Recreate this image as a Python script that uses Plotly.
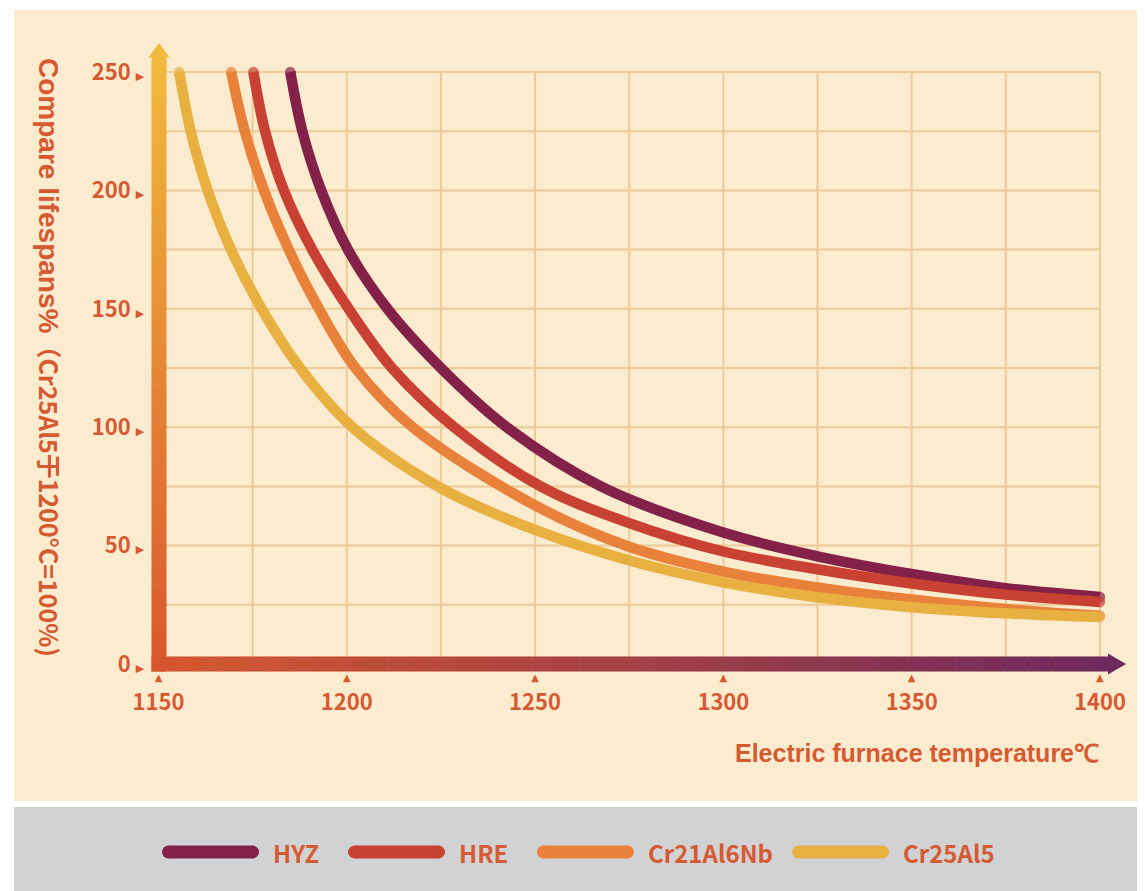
import plotly.graph_objects as go

# ---------------- data ----------------
series_names = ["HYZ", "HRE", "Cr21Al6Nb", "Cr25Al5"]
series_colors = ["#842148", "#C94133", "#E8823A", "#E8B040"]

hyz_temp = [1185.0, 1188.2, 1193.2, 1200.3, 1210.8, 1225, 1242.5, 1267.5, 1300, 1325, 1350, 1375, 1400]
hyz_life = [250, 225, 200, 175, 150, 125, 100, 75, 55.5, 45.5, 38, 32, 28.3]

hre_temp = [1175.2, 1178.3, 1183.3, 1190.8, 1200.5, 1212, 1228.5, 1251.5, 1275, 1300, 1325, 1350, 1375, 1400]
hre_life = [250, 225, 200, 175, 150, 125, 100, 75, 59.5, 47.5, 40, 34, 29.3, 26.2]

nb_temp = [1169.3, 1172.9, 1178.0, 1184.6, 1192.6, 1202.3, 1217.5, 1250, 1275, 1300, 1325, 1350, 1375, 1400]
nb_life = [250, 225, 200, 175, 150, 125, 100, 67, 49.5, 39, 32.3, 27.2, 23.2, 20.4]

cr_temp = [1155.5, 1158.55, 1163.05, 1169.25, 1177.4, 1187.6, 1201.5, 1225, 1250, 1275, 1300, 1325, 1350, 1375, 1400]
cr_life = [250, 225, 200, 175, 150, 125, 100, 74.3, 56.6, 43.7, 34.5, 28.2, 24, 21.4, 19.8]

x_ticks = [1150, 1200, 1250, 1300, 1350, 1400]
y_ticks = [0, 50, 100, 150, 200, 250]
grid_step = 25

x_title = "Electric furnace temperature℃"
y_title_main = "Compare lifespans%"
y_title_note = "（Cr25Al5于1200°C=100%)"

series_temp = [hyz_temp, hre_temp, nb_temp, cr_temp]
series_life = [hyz_life, hre_life, nb_life, cr_life]

# ---------------- layout constants (page pixels) ----------------
W, H = 1145, 891
OFF = 8                      # default page body margin
FW, FH = W - OFF, H - OFF    # figure size
TXT = "#D65A31"
BEIGE = "#FBEBCF"
GRAY = "#D1D2D4"
GRID = "#EECA96"
PLOT_L, PLOT_R = 158.5, 1115.0   # x range [1150, 1404]
PLOT_B, PLOT_T = 664.0, 57.8     # y range [0, 256]
X_RANGE = [x_ticks[0], x_ticks[-1] + 4]
Y_RANGE = [y_ticks[0], y_ticks[-1] + 6]
LINE_W = 10.5


def hx(p):
    return (p - OFF) / FW


def hy(p):
    return 1 - (p - OFF) / FH


def mix(c1, c2, t):
    a = [int(c1[i:i + 2], 16) for i in (1, 3, 5)]
    b = [int(c2[i:i + 2], 16) for i in (1, 3, 5)]
    return "rgb(%d,%d,%d)" % tuple(round(a[k] + (b[k] - a[k]) * t) for k in range(3))


fig = go.Figure()

for name, col, xs, ys in zip(series_names, series_colors, series_temp, series_life):
    sizes = [LINE_W] + [0] * (len(xs) - 2) + [LINE_W]
    fig.add_trace(go.Scatter(
        x=xs, y=ys, name=name, mode="lines+markers",
        line=dict(color=col, width=LINE_W, shape="spline", smoothing=1.0),
        marker=dict(size=sizes, color=col, line=dict(width=0)),
        showlegend=False, hoverinfo="x+y+name",
    ))

shapes = []
# background panels
shapes.append(dict(type="rect", xref="paper", yref="paper", x0=hx(14), x1=hx(W),
                   y0=hy(801), y1=hy(10), fillcolor=BEIGE, line_width=0, layer="below"))
shapes.append(dict(type="rect", xref="paper", yref="paper", x0=hx(14), x1=hx(W),
                   y0=hy(H), y1=hy(807), fillcolor=GRAY, line_width=0, layer="below"))

# grid lines (stop at the last tick)
t = x_ticks[0] + grid_step
while t <= x_ticks[-1]:
    shapes.append(dict(type="line", xref="x", yref="y", x0=t, x1=t, y0=y_ticks[0], y1=y_ticks[-1],
                       line=dict(color=GRID, width=2), layer="below"))
    t += grid_step
v = y_ticks[0] + grid_step
while v <= y_ticks[-1]:
    shapes.append(dict(type="line", xref="x", yref="y", x0=x_ticks[0], x1=x_ticks[-1], y0=v, y1=v,
                       line=dict(color=GRID, width=2), layer="below"))
    v += grid_step

# gradient y axis bar
YB_X0, YB_X1 = 151.5, 166.5
YB_TOP, YB_BOT = 56.0, 671.5
Y_TOP_C, Y_BOT_C = "#F2BA3C", "#D9562E"
N = 120
for i in range(N):
    a = YB_TOP + (YB_BOT - YB_TOP) * i / N
    b = YB_TOP + (YB_BOT - YB_TOP) * (i + 1) / N + 0.6
    shapes.append(dict(type="rect", xref="paper", yref="paper", x0=hx(YB_X0), x1=hx(YB_X1),
                       y0=hy(min(b, YB_BOT)), y1=hy(a), fillcolor=mix(Y_TOP_C, Y_BOT_C, (i + 0.5) / N),
                       line_width=0, layer="above"))
shapes.append(dict(type="path", xref="paper", yref="paper",
                   path="M %f,%f L %f,%f L %f,%f Z" % (hx(159), hy(43), hx(148.5), hy(57.5), hx(169.5), hy(57.5)),
                   fillcolor=Y_TOP_C, line_width=0, layer="above"))

# gradient x axis bar
XB_L, XB_R = 151.5, 1109.0
XB_Y0, XB_Y1 = 656.5, 671.5
X_L_C, X_R_C = "#D7572E", "#6E295D"
N = 160
for i in range(N):
    a = XB_L + (XB_R - XB_L) * i / N
    b = XB_L + (XB_R - XB_L) * (i + 1) / N + 0.6
    shapes.append(dict(type="rect", xref="paper", yref="paper", x0=hx(a), x1=hx(min(b, XB_R)),
                       y0=hy(XB_Y1), y1=hy(XB_Y0), fillcolor=mix(X_L_C, X_R_C, (i + 0.5) / N),
                       line_width=0, layer="above"))
shapes.append(dict(type="path", xref="paper", yref="paper",
                   path="M %f,%f L %f,%f L %f,%f Z" % (hx(1126), hy(664), hx(1108), hy(653.5), hx(1108), hy(674.5)),
                   fillcolor=X_R_C, line_width=0, layer="above"))

# custom legend
annotations = []
legend_x = [162, 348, 537, 792]
LEG_Y, LEG_LEN, LEG_TH = 852, 97, 13
for name, col, lx in zip(series_names, series_colors, legend_x):
    r = LEG_TH / 2
    shapes.append(dict(type="rect", xref="paper", yref="paper", x0=hx(lx + r), x1=hx(lx + LEG_LEN - r),
                       y0=hy(LEG_Y + r), y1=hy(LEG_Y - r), fillcolor=col, line_width=0, layer="above"))
    for cx in (lx + r, lx + LEG_LEN - r):
        shapes.append(dict(type="circle", xref="paper", yref="paper", x0=hx(cx - r), x1=hx(cx + r),
                           y0=hy(LEG_Y + r), y1=hy(LEG_Y - r), fillcolor=col, line_width=0, layer="above"))
    annotations.append(dict(xref="paper", yref="paper", x=hx(lx + LEG_LEN + 12), y=hy(LEG_Y),
                            xanchor="left", yanchor="middle", showarrow=False, text=name,
                            font=dict(family="Noto Sans CJK SC", size=24, color=TXT, weight="bold")))

# axis titles
annotations.append(dict(xref="paper", yref="paper", x=hx(1101), y=hy(753), xanchor="right", yanchor="middle",
                        showarrow=False, text="<b>%s</b>" % x_title,
                        font=dict(family="Liberation Sans", size=25, color=TXT)))
annotations.append(dict(xref="paper", yref="paper", x=hx(50), y=hy(357), xanchor="center", yanchor="middle",
                        showarrow=False, textangle=90,
                        text="<b>%s</b><span style=\"font-family:'Noto Sans CJK SC';"
                             "font-size:25px;font-weight:700\">%s</span>" % (y_title_main, y_title_note),
                        font=dict(family="Liberation Sans", size=28, color=TXT)))

tri_style = "font-family:DejaVu Sans;font-size:%dpx"
fig.update_layout(
    width=FW, height=FH, autosize=False, template="none",
    margin=dict(l=0, r=0, t=0, b=0, pad=0),
    paper_bgcolor="white", plot_bgcolor="rgba(0,0,0,0)",
    showlegend=False,
    xaxis=dict(domain=[hx(PLOT_L), hx(PLOT_R)], range=X_RANGE, showgrid=False, zeroline=False,
               showline=False, tickvals=x_ticks,
               ticktext=["<span style='%s'>▲</span><br>%d" % (tri_style % 10, v) for v in x_ticks],
               ticks="", ticklabelstandoff=-6, automargin=False,
               tickfont=dict(family="Noto Sans CJK SC", size=22, color=TXT, weight="bold")),
    yaxis=dict(domain=[hy(PLOT_B), hy(PLOT_T)], range=Y_RANGE, showgrid=False, zeroline=False,
               showline=False, tickvals=y_ticks,
               ticktext=["%d <span style='%s'>▶</span>" % (v, tri_style % 11) for v in y_ticks],
               ticks="outside", ticklen=9, tickcolor="rgba(0,0,0,0)", automargin=False,
               tickfont=dict(family="Noto Sans CJK SC", size=22, color=TXT, weight="bold")),
    shapes=shapes,
    annotations=annotations,
)

fig.write_html("out.html")
